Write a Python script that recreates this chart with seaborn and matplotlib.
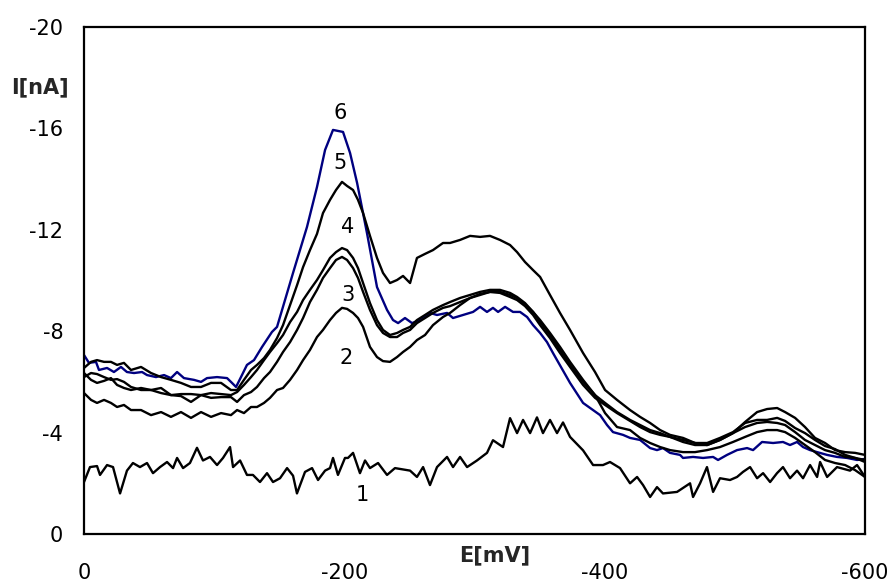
import matplotlib
matplotlib.use("Agg")
import matplotlib.pyplot as plt
import seaborn as sns
import pandas as pd

# ---------------- data (E in mV, I in nA) ----------------
E_grid = [0, -5.4, -10.0, -15.4, -20.7, -25.4, -30.7, -36.1, -43.8, -51.5, -59.2, -66.8, -74.5, -82.2,
          -89.9, -97.6, -105.3, -112.9, -117.6, -122.9, -128.3, -132.9, -138.3, -142.9, -148.3, -152.9,
          -158.3, -163.7, -168.3, -173.6, -179.0, -183.6, -189.0, -193.6, -198.2, -202.1, -206.7, -210.5,
          -214.4, -219.7, -225.1, -229.7, -235.1, -240.5, -245.1, -250.5, -255.8, -262.0, -268.1, -275.8,
          -281.2, -288.9, -296.6, -304.3, -311.9, -319.6, -327.3, -332.7, -338.8, -345.0, -350.4, -358.0,
          -365.7, -373.4, -383.4, -392.6, -400.3, -409.5, -419.5, -427.2, -434.9, -442.6, -450.2, -460.2,
          -469.4, -478.7, -488.6, -498.6, -507.9, -517.1, -524.8, -532.5, -538.6, -546.3, -553.9, -561.6,
          -569.3, -577.0, -584.7, -592.4, -600.0]

I_curve2 = [-5.56, -5.29, -5.17, -5.29, -5.17, -5.01, -5.09, -4.89, -4.89, -4.69,
            -4.81, -4.62, -4.81, -4.58, -4.81, -4.62, -4.77, -4.69, -4.89, -4.77,
            -5.01, -5.01, -5.17, -5.37, -5.68, -5.76, -6.08, -6.47, -6.86, -7.26,
            -7.77, -8.05, -8.44, -8.72, -8.92, -8.88, -8.72, -8.52, -8.17, -7.38,
            -6.98, -6.82, -6.79, -6.98, -7.18, -7.38, -7.65, -7.85, -8.24, -8.56,
            -8.72, -9.03, -9.31, -9.47, -9.55, -9.55, -9.43, -9.31, -9.07, -8.76,
            -8.44, -7.93, -7.38, -6.79, -6.08, -5.48, -4.77, -4.22, -4.10, -3.79,
            -3.59, -3.43, -3.31, -3.23, -3.23, -3.31, -3.43, -3.63, -3.83, -4.02,
            -4.10, -4.10, -4.02, -3.79, -3.51, -3.23, -2.92, -2.80, -2.72, -2.52,
            -2.25]

I_curve3 = [-6.35, -6.08, -5.96, -6.04, -6.15, -5.88, -5.76, -5.68, -5.76, -5.68,
            -5.76, -5.48, -5.44, -5.21, -5.48, -5.37, -5.40, -5.40, -5.21, -5.48,
            -5.60, -5.80, -6.15, -6.39, -6.79, -7.18, -7.57, -8.05, -8.52, -9.15,
            -9.63, -10.10, -10.49, -10.81, -10.93, -10.81, -10.49, -10.10, -9.55, -8.84,
            -8.24, -7.93, -7.77, -7.77, -7.93, -8.05, -8.32, -8.52, -8.72, -8.92,
            -8.99, -9.15, -9.31, -9.43, -9.55, -9.51, -9.35, -9.23, -8.99, -8.64,
            -8.24, -7.73, -7.14, -6.59, -5.88, -5.37, -5.09, -4.77, -4.46, -4.22,
            -4.02, -3.91, -3.83, -3.63, -3.51, -3.51, -3.71, -3.98, -4.22, -4.38,
            -4.42, -4.38, -4.30, -4.02, -3.71, -3.51, -3.31, -3.20, -3.04, -3.00,
            -2.84]

I_curve4 = [-6.19, -6.35, -6.31, -6.19, -6.08, -6.11, -6.00, -5.80, -5.68, -5.68,
            -5.56, -5.48, -5.52, -5.52, -5.48, -5.56, -5.52, -5.48, -5.60, -5.88,
            -6.19, -6.47, -6.86, -7.18, -7.53, -7.85, -8.36, -8.76, -9.23, -9.63,
            -10.02, -10.41, -10.89, -11.12, -11.28, -11.20, -10.89, -10.49, -9.90, -9.11,
            -8.44, -8.05, -7.85, -7.93, -8.05, -8.17, -8.44, -8.64, -8.84, -9.03,
            -9.15, -9.31, -9.43, -9.55, -9.63, -9.63, -9.51, -9.35, -9.11, -8.76,
            -8.36, -7.85, -7.26, -6.67, -6.00, -5.48, -5.17, -4.81, -4.50, -4.30,
            -4.10, -3.98, -3.83, -3.71, -3.59, -3.59, -3.79, -4.02, -4.38, -4.50,
            -4.50, -4.58, -4.46, -4.18, -3.98, -3.71, -3.47, -3.35, -3.12, -3.00,
            -2.92]

I_curve5 = [-6.55, -6.79, -6.86, -6.79, -6.79, -6.67, -6.75, -6.47, -6.59, -6.35,
            -6.19, -6.08, -5.96, -5.80, -5.80, -5.96, -5.96, -5.68, -5.68, -6.08,
            -6.47, -6.67, -6.94, -7.26, -7.73, -8.24, -9.03, -9.82, -10.53, -11.20,
            -11.84, -12.66, -13.18, -13.57, -13.89, -13.73, -13.57, -13.18, -12.66, -11.76,
            -10.89, -10.30, -9.90, -10.02, -10.18, -9.90, -10.89, -11.05, -11.20, -11.48,
            -11.48, -11.60, -11.76, -11.72, -11.76, -11.60, -11.40, -11.12, -10.73, -10.41,
            -10.14, -9.43, -8.72, -8.05, -7.14, -6.39, -5.68, -5.29, -4.89, -4.62,
            -4.38, -4.10, -3.91, -3.79, -3.59, -3.51, -3.71, -3.98, -4.42, -4.81,
            -4.93, -4.97, -4.81, -4.58, -4.22, -3.79, -3.59, -3.31, -3.23, -3.20,
            -3.12]

E_curve6 = [0, -3.8, -9.2, -11.5, -17.7, -23.0, -28.4, -33.0, -38.4, -44.6, -48.4, -55.3, -61.5, -66.8,
            -71.5, -76.8, -84.5, -89.9, -94.5, -102.2, -109.9, -113.7, -116.8, -120.6, -125.2, -130.6,
            -136.8, -144.4, -148.3, -160.6, -171.3, -179.0, -185.2, -191.3, -199.0, -204.4, -209.8,
            -217.4, -225.1, -232.8, -237.4, -241.3, -246.6, -252.0, -258.2, -265.8, -271.2, -278.9,
            -283.5, -291.2, -298.9, -304.3, -309.6, -314.2, -318.1, -323.5, -329.6, -335.0, -340.4,
            -345.0, -350.4, -355.7, -360.3, -363.4, -373.4, -383.4, -396.5, -401.8, -406.4, -414.1,
            -419.5, -427.2, -434.9, -440.2, -444.8, -450.2, -457.9, -460.2, -467.9, -475.6, -483.3,
            -487.1, -494.0, -501.7, -509.4, -514.0, -520.9, -529.4, -537.0, -542.4, -547.8, -552.4,
            -557.8, -563.2, -570.9, -578.5, -586.2, -593.9, -600.0]
I_curve6 = [-7.06, -6.75, -6.79, -6.47, -6.55, -6.39, -6.59, -6.39, -6.35, -6.39, -6.27, -6.19, -6.27,
            -6.15, -6.39, -6.15, -6.08, -6.00, -6.15, -6.19, -6.15, -5.96, -5.80, -6.19, -6.67, -6.86,
            -7.38, -7.97, -8.17, -10.30, -12.11, -13.69, -15.15, -15.94, -15.86, -15.03, -13.85,
            -11.87, -9.74, -8.84, -8.44, -8.32, -8.52, -8.32, -8.44, -8.72, -8.64, -8.72, -8.52,
            -8.64, -8.76, -8.96, -8.76, -8.92, -8.76, -8.96, -8.76, -8.76, -8.56, -8.24, -7.93,
            -7.57, -7.14, -6.86, -5.96, -5.17, -4.69, -4.30, -4.02, -3.91, -3.79, -3.71, -3.39,
            -3.31, -3.39, -3.20, -3.12, -3.00, -3.04, -3.00, -3.04, -2.92, -3.12, -3.31, -3.39,
            -3.31, -3.63, -3.59, -3.63, -3.51, -3.63, -3.43, -3.31, -3.23, -3.12, -3.04, -3.00,
            -2.92, -2.96]

E_curve1 = [0, -4.6, -10.0, -12.3, -17.7, -22.3, -27.7, -33.0, -37.6, -43.0, -48.4, -53.0, -58.4,
            -63.8, -68.4, -71.5, -76.1, -81.4, -86.8, -91.4, -96.8, -102.2, -106.8, -112.2, -114.5,
            -119.9, -125.2, -129.8, -135.2, -140.6, -145.2, -150.6, -156.0, -160.6, -163.6, -169.8,
            -175.2, -179.8, -185.2, -189.0, -191.3, -195.1, -200.5, -202.8, -206.7, -212.0, -215.9,
            -219.7, -225.9, -232.8, -238.9, -250.5, -255.8, -260.5, -265.8, -271.2, -278.9, -283.5,
            -288.9, -294.3, -301.9, -309.6, -314.2, -321.9, -327.3, -332.7, -337.3, -342.7, -348.0,
            -352.6, -358.0, -363.4, -368.0, -373.4, -383.4, -391.1, -398.7, -404.1, -411.8, -419.5,
            -424.9, -429.5, -434.9, -440.2, -444.8, -455.6, -465.6, -467.9, -473.3, -478.6, -483.3,
            -488.6, -496.3, -501.7, -506.3, -511.7, -517.1, -521.7, -527.1, -532.4, -537.0, -542.4,
            -547.8, -552.4, -557.8, -563.2, -565.5, -570.9, -578.5, -588.5, -593.9, -600.0]
I_curve1 = [-2.05, -2.64, -2.68, -2.33, -2.72, -2.64, -1.60, -2.50, -2.80, -2.64, -2.80, -2.40, -2.64,
            -2.84, -2.60, -3.00, -2.60, -2.80, -3.40, -2.90, -3.04, -2.72, -3.00, -3.43, -2.64,
            -2.90, -2.33, -2.33, -2.05, -2.40, -2.05, -2.20, -2.60, -2.30, -1.60, -2.45,
            -2.60, -2.13, -2.50, -2.60, -3.00, -2.33, -3.00, -3.00, -3.20, -2.40, -2.90,
            -2.60, -2.80, -2.33, -2.60, -2.50, -2.25, -2.64, -1.93, -2.64, -3.04, -2.64,
            -3.04, -2.64, -2.90, -3.20, -3.70, -3.43, -4.57, -3.98, -4.50, -3.98, -4.60,
            -3.98, -4.50, -3.98, -4.40, -3.83, -3.30, -2.72, -2.72, -2.84, -2.60, -2.00,
            -2.25, -1.93, -1.46, -1.85, -1.60, -1.66, -2.00, -1.46, -2.00, -2.64, -1.66,
            -2.20, -2.13, -2.25, -2.45, -2.64, -2.20, -2.40, -2.05, -2.40, -2.64, -2.20,
            -2.50, -2.20, -2.72, -2.25, -2.84, -2.25, -2.64, -2.50, -2.72, -2.25]

curve_labels = ["1", "2", "3", "4", "5", "6"]
label_E = [-213.6, -201.7, -202.5, -202.5, -196.7, -196.7]
label_I = [-1.55, -6.95, -9.43, -12.1, -14.64, -16.6]

x_ticks = [0, -200, -400, -600]
y_ticks = [0, -4, -8, -12, -16, -20]

# ---------------- build long-form table ----------------
frames = [
    pd.DataFrame({"E": E_curve1, "I": I_curve1, "curve": "1"}),
    pd.DataFrame({"E": E_grid, "I": I_curve2, "curve": "2"}),
    pd.DataFrame({"E": E_grid, "I": I_curve3, "curve": "3"}),
    pd.DataFrame({"E": E_grid, "I": I_curve4, "curve": "4"}),
    pd.DataFrame({"E": E_grid, "I": I_curve5, "curve": "5"}),
    pd.DataFrame({"E": E_curve6, "I": I_curve6, "curve": "6"}),
]
df = pd.concat(frames, ignore_index=True)

sns.set_style("white")
plt.rcParams["font.family"] = ["DejaVu Sans"]

fig = plt.figure(figsize=(8.93, 5.83), dpi=100)
ax = fig.add_axes([84 / 893, 49 / 583, 781 / 893, 507 / 583])

palette = {"1": "black", "2": "black", "3": "black", "4": "black", "5": "black", "6": "#000080"}
sns.lineplot(data=df, x="E", y="I", hue="curve", hue_order=["6", "1", "2", "3", "4", "5"],
             palette=palette, sort=False, estimator=None, legend=False,
             linewidth=1.7, ax=ax)

ax.set_xlim(0, -600)
ax.set_ylim(0, -20)
ax.set_xticks(x_ticks)
ax.set_xticklabels([str(v) for v in x_ticks])
ax.set_yticks(y_ticks)
ax.set_yticklabels([str(v) for v in y_ticks])
ax.set_xlabel("")
ax.set_ylabel("")
ax.tick_params(axis="both", direction="in", length=8, width=1, colors="black", labelsize=15)
ax.tick_params(axis="x", pad=21)
ax.tick_params(axis="y", pad=15)
for s in ax.spines.values():
    s.set_visible(True)
    s.set_color("black")
    s.set_linewidth(1.6)

for lab, xe, yi in zip(curve_labels, label_E, label_I):
    ax.text(xe, yi, lab, fontsize=15, ha="center", va="center", color="black", zorder=1)

fig.text(40 / 893, 1 - 87 / 583, "I[nA]", fontsize=15, fontweight="bold", ha="center", va="center")
fig.text(495 / 893, 1 - 555 / 583, "E[mV]", fontsize=15, fontweight="bold", ha="center", va="center")

fig.savefig("out.png", dpi=100)
